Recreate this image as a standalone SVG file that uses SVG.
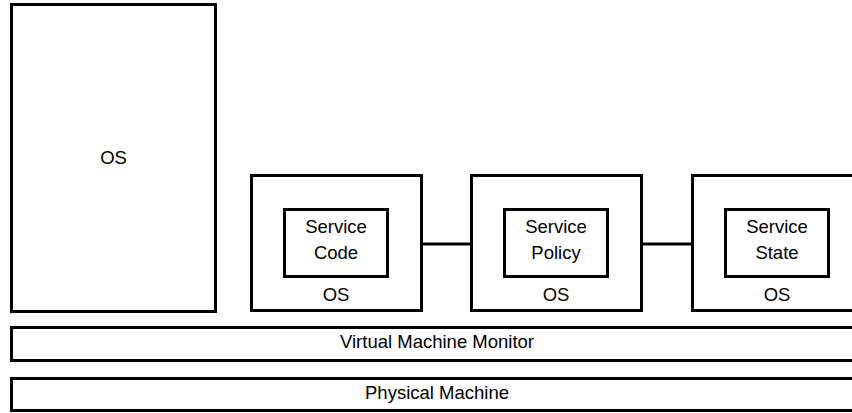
<svg xmlns="http://www.w3.org/2000/svg" width="852" height="413" viewBox="0 0 852 413">
  <style>
    .box { fill: #ffffff; stroke: #000000; stroke-width: 3; }
    .link { stroke: #000000; stroke-width: 3; fill: none; }
    text { font-family: "Liberation Sans", Arial, sans-serif; font-size: 18.5px; fill: #000000; text-anchor: middle; }
  </style>
  <rect width="852" height="413" fill="#ffffff"/>

  <!-- connectors between the service VMs -->
  <g id="connectors">
    <line class="link" x1="421" y1="244" x2="471" y2="244"/>
    <line class="link" x1="642" y1="244" x2="692" y2="244"/>
  </g>

  <!-- large guest OS -->
  <g id="guest-os">
    <rect class="box" x="11.5" y="4.5" width="204" height="307"/>
    <text x="113.5" y="164">OS</text>
  </g>

  <!-- service VM: code -->
  <g id="vm-code">
    <rect class="box" x="251.5" y="175.5" width="170" height="135"/>
    <rect class="box" x="284.5" y="209.5" width="103" height="67"/>
    <text x="336" y="233">Service</text>
    <text x="336" y="259">Code</text>
    <text x="336" y="301">OS</text>
  </g>

  <!-- service VM: policy -->
  <g id="vm-policy">
    <rect class="box" x="471.5" y="175.5" width="170" height="135"/>
    <rect class="box" x="504.5" y="209.5" width="103" height="67"/>
    <text x="556" y="233">Service</text>
    <text x="556" y="259">Policy</text>
    <text x="556" y="301">OS</text>
  </g>

  <!-- service VM: state -->
  <g id="vm-state">
    <rect class="box" x="692.5" y="175.5" width="170" height="135"/>
    <rect class="box" x="725.5" y="209.5" width="103" height="67"/>
    <text x="777" y="233">Service</text>
    <text x="777" y="259">State</text>
    <text x="777" y="301">OS</text>
  </g>

  <!-- hypervisor layer -->
  <g id="vmm">
    <rect class="box" x="11.5" y="327.5" width="851" height="33"/>
    <text x="437" y="348">Virtual Machine Monitor</text>
  </g>

  <!-- hardware layer -->
  <g id="physical">
    <rect class="box" x="11.5" y="378.5" width="851" height="32"/>
    <text x="437" y="399">Physical Machine</text>
  </g>
</svg>
